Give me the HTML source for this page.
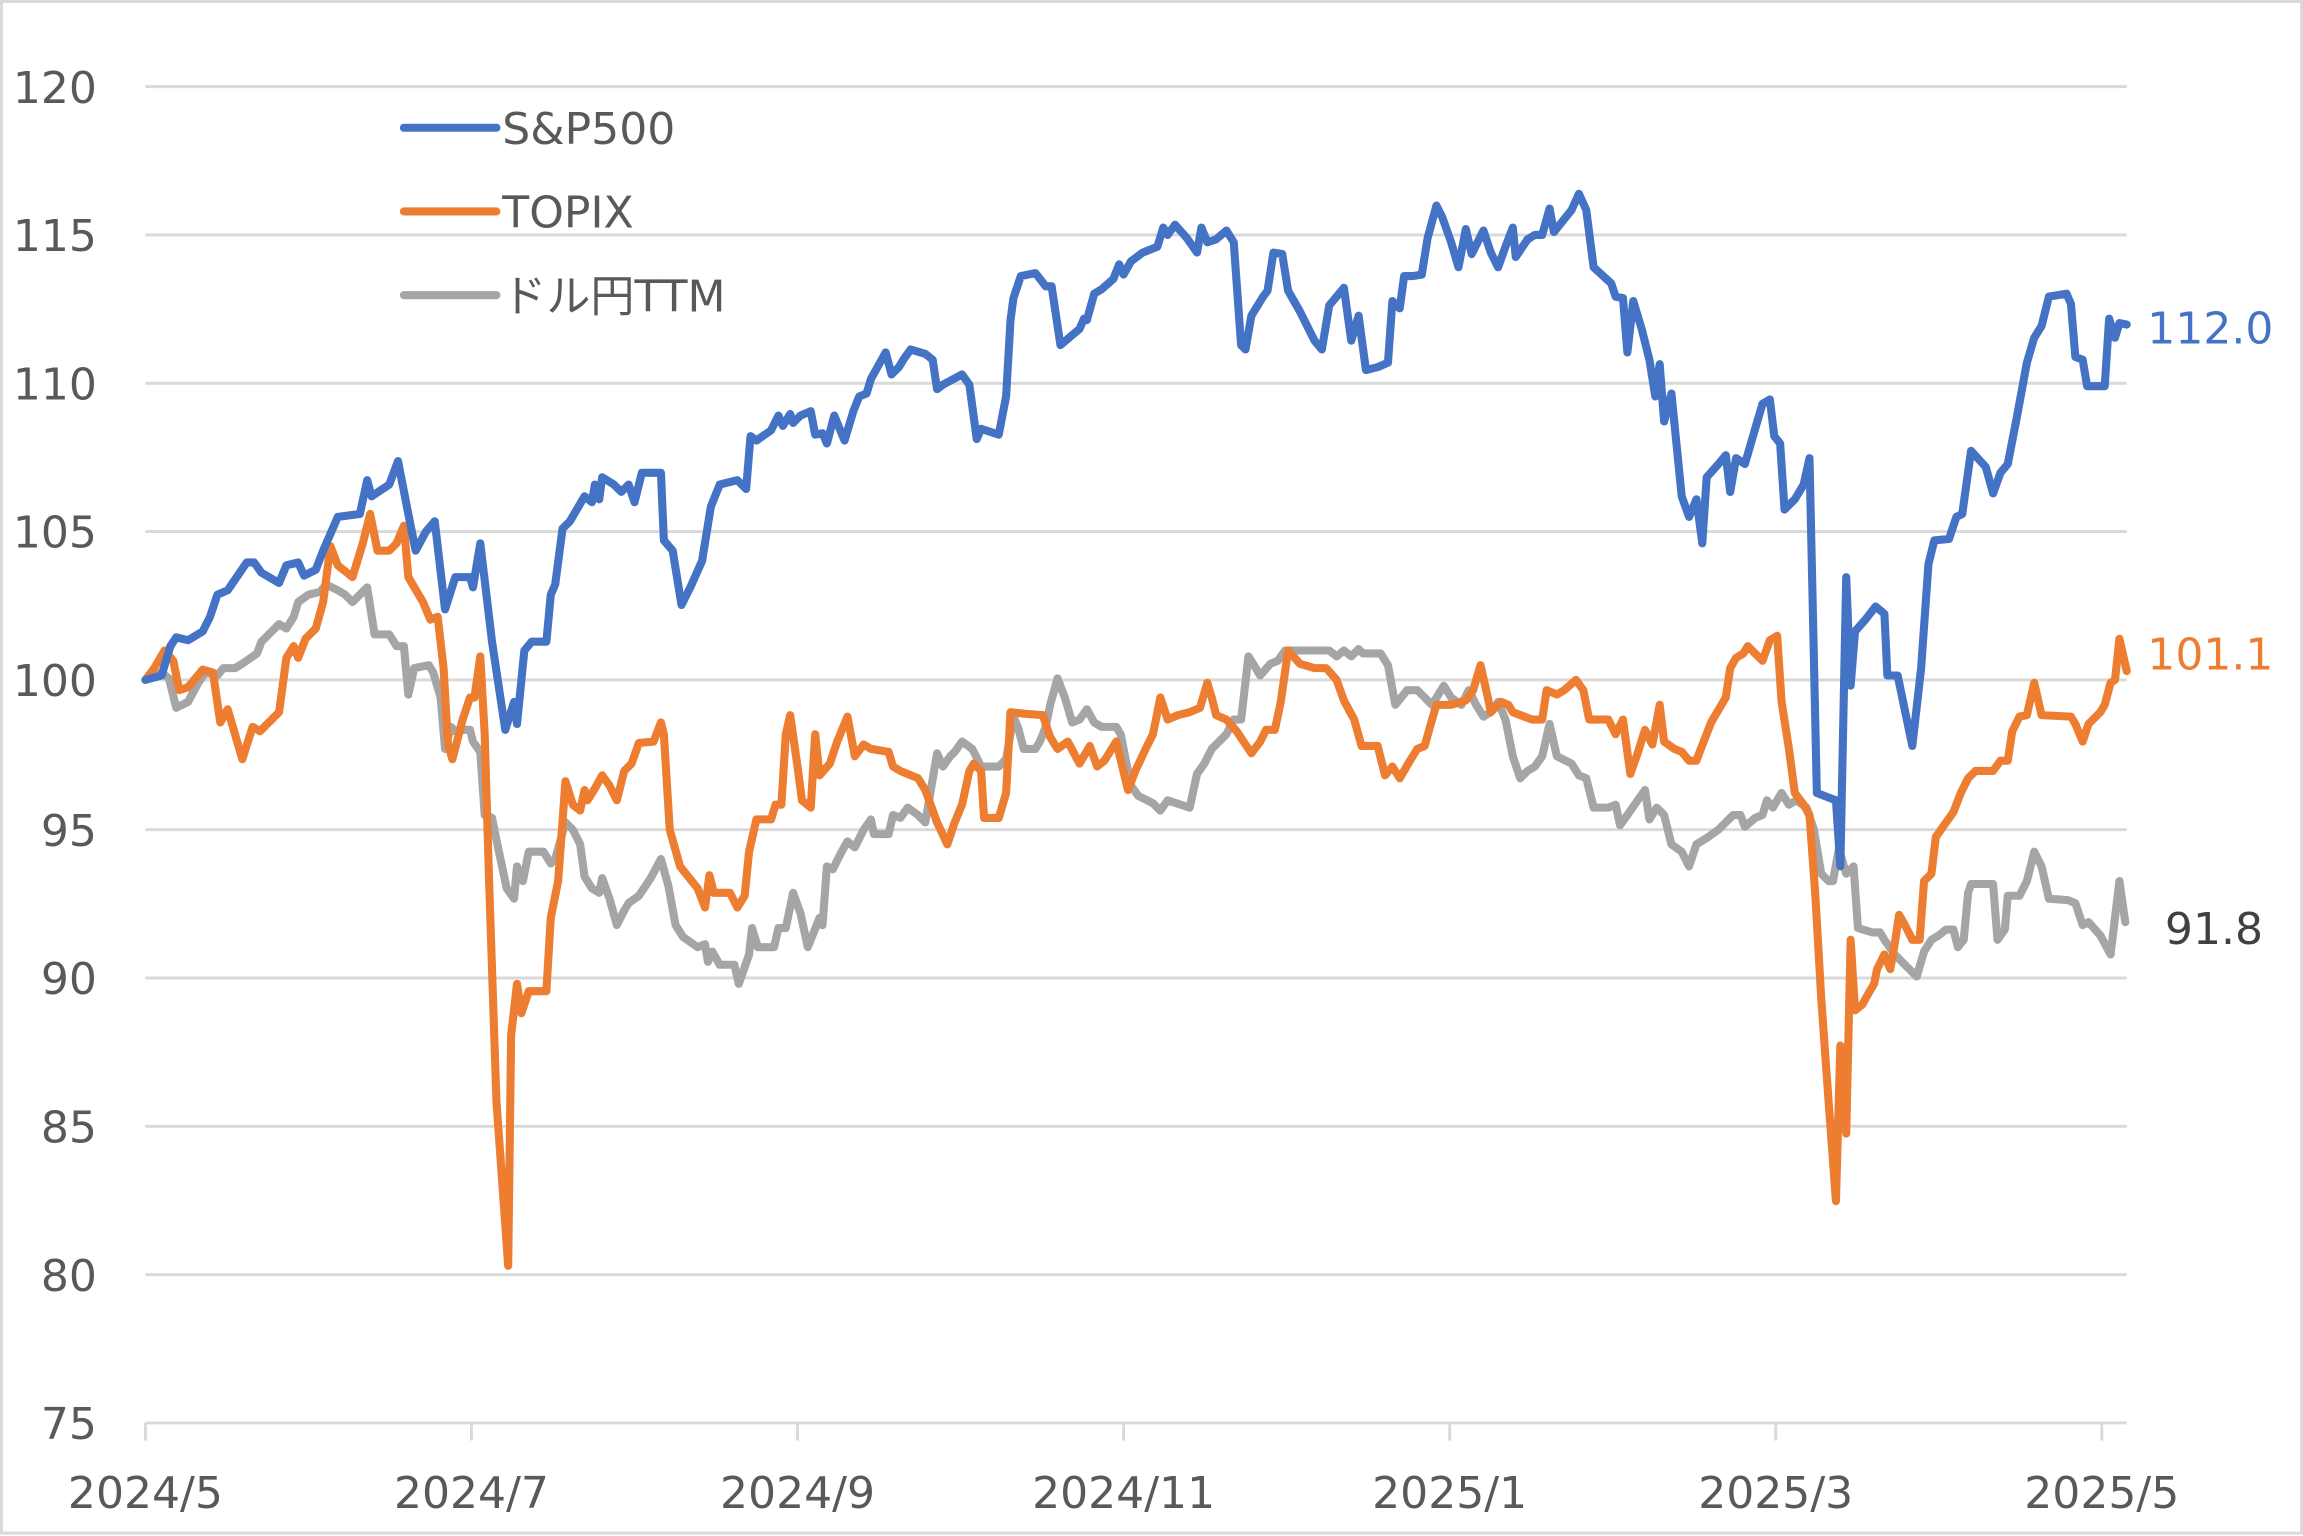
<!DOCTYPE html>
<html><head><meta charset="utf-8"><style>
html,body{margin:0;padding:0;background:#fff;}
svg{display:block;}
text{font-family:"DejaVu Sans","Noto Sans CJK JP",sans-serif;fill:#595959;}
</style></head><body>
<svg width="2303" height="1536" viewBox="0 0 1568 1046" preserveAspectRatio="none" xmlns="http://www.w3.org/2000/svg">
<rect x="1" y="1" width="1566" height="1043" fill="#fff" stroke="#d9d9d9" stroke-width="2"/>
<g stroke="#d9d9d9" stroke-width="2">
<line x1="99" x2="1448" y1="59" y2="59"/><line x1="99" x2="1448" y1="160" y2="160"/>
<line x1="99" x2="1448" y1="261" y2="261"/><line x1="99" x2="1448" y1="362" y2="362"/>
<line x1="99" x2="1448" y1="463" y2="463"/><line x1="99" x2="1448" y1="565" y2="565"/>
<line x1="99" x2="1448" y1="666" y2="666"/><line x1="99" x2="1448" y1="767" y2="767"/>
<line x1="99" x2="1448" y1="868" y2="868"/><line x1="99" x2="1448" y1="969" y2="969"/>
<line x1="99" x2="99" y1="969" y2="981"/><line x1="321" x2="321" y1="969" y2="981"/>
<line x1="543" x2="543" y1="969" y2="981"/><line x1="765" x2="765" y1="969" y2="981"/>
<line x1="987" x2="987" y1="969" y2="981"/><line x1="1209" x2="1209" y1="969" y2="981"/>
<line x1="1431" x2="1431" y1="969" y2="981"/>
</g>
<g font-size="30" text-anchor="end">
<text x="66" y="70">120</text><text x="66" y="171">115</text><text x="66" y="272">110</text>
<text x="66" y="373">105</text><text x="66" y="474">100</text><text x="66" y="576">95</text>
<text x="66" y="677">90</text><text x="66" y="778">85</text><text x="66" y="879">80</text>
<text x="66" y="980">75</text>
</g>
<g font-size="30" text-anchor="middle">
<text x="99" y="1027">2024/5</text><text x="321" y="1027">2024/7</text><text x="543" y="1027">2024/9</text>
<text x="765" y="1027">2024/11</text><text x="987" y="1027">2025/1</text><text x="1209" y="1027">2025/3</text>
<text x="1431" y="1027">2025/5</text>
</g>
<g fill="none" stroke-width="5.5" stroke-linejoin="round" stroke-linecap="round">
<polyline stroke="#A5A5A5" points="99,463 110,458 115,462 120,482 128,478 135,465 140,458 148,460 152,455 160,455 165,452 175,445 178,437 185,430 190,425 195,428 200,420 203,410 210,405 218,403 222,398 230,402 235,405 240,410 250,400 255,432 265,432 270,440 275,440 278,473 282,455 292,453 295,458 300,475 303,510 307,495 310,498 315,497 320,497 322,505 327,512 330,555 335,557 338,572 345,605 350,612 352,590 356,600 360,580 370,580 375,588 378,585 385,560 390,565 395,575 398,597 403,605 408,608 410,598 415,612 420,630 425,620 428,615 435,610 443,598 450,585 455,603 460,630 465,638 475,645 480,643 482,655 485,648 490,657 500,657 503,670 510,650 512,632 516,645 527,645 530,632 535,632 540,608 545,622 550,645 558,625 560,630 563,590 567,592 573,580 577,573 582,577 588,565 593,558 595,568 605,568 608,555 613,557 618,550 625,555 630,560 638,513 642,522 647,515 650,512 655,505 662,510 668,522 680,522 685,517 690,488 693,495 697,510 705,510 708,505 712,495 715,480 720,462 725,475 730,492 735,490 740,483 745,492 750,495 760,495 763,500 770,535 775,542 785,547 790,552 795,545 810,550 815,527 820,520 825,510 835,500 840,490 845,490 850,447 855,455 858,460 865,452 870,450 875,443 880,443 905,443 910,447 915,443 920,447 925,442 928,445 940,445 945,453 950,480 958,470 965,470 975,480 983,467 988,475 995,480 1000,470 1005,480 1010,488 1015,485 1020,478 1025,490 1030,515 1035,530 1040,525 1045,522 1050,515 1055,493 1060,515 1070,520 1075,528 1080,530 1085,550 1095,550 1100,548 1103,562 1108,555 1115,545 1120,538 1123,558 1128,550 1133,555 1138,575 1145,580 1150,590 1155,575 1163,570 1170,565 1175,560 1180,555 1185,555 1188,563 1195,557 1200,555 1203,545 1207,550 1213,540 1218,548 1223,545 1230,550 1235,565 1240,595 1245,600 1248,600 1252,578 1257,595 1262,590 1265,632 1275,635 1280,635 1283,640 1290,650 1295,655 1300,660 1305,665 1310,648 1315,640 1320,637 1325,633 1330,633 1333,645 1337,640 1340,608 1342,602 1357,602 1360,640 1365,633 1367,610 1375,610 1380,600 1385,580 1390,590 1395,612 1408,613 1413,615 1418,630 1422,628 1430,637 1437,650 1440,625 1443,600 1447,628"/>
<polyline stroke="#ED7D31" points="99,463 105,455 112,443 118,450 122,470 128,468 138,456 145,458 150,492 155,483 165,517 172,495 177,498 185,490 190,485 195,448 200,440 203,448 208,435 215,428 220,410 225,372 230,385 240,393 247,370 252,350 257,375 265,375 270,370 275,358 278,393 288,410 293,422 298,420 302,455 305,507 308,517 315,490 320,475 323,475 327,447 330,500 333,600 338,750 346,862 348,705 352,670 355,690 360,675 372,675 375,625 380,600 385,532 390,548 395,552 398,538 400,545 405,537 410,528 415,535 420,545 425,525 430,520 435,506 445,505 450,492 452,500 456,565 463,590 475,605 480,618 483,596 486,608 497,608 502,618 507,610 510,580 515,558 525,558 528,548 532,548 535,500 538,487 543,522 546,545 552,550 555,500 558,528 565,520 570,505 577,488 582,515 588,507 593,510 605,512 608,522 613,525 625,530 630,538 638,560 645,575 650,560 655,548 660,525 663,520 668,525 670,557 680,557 685,540 688,485 697,486 710,487 715,502 720,510 727,505 735,520 742,508 747,522 752,518 760,505 768,538 773,525 780,510 785,500 790,475 795,490 802,487 810,485 817,482 822,465 825,475 828,487 835,490 842,498 852,513 858,505 862,497 868,497 872,478 877,443 885,452 895,455 903,455 910,463 915,477 922,490 927,508 938,508 943,528 948,522 953,530 960,518 965,510 970,508 975,490 978,480 988,480 998,477 1003,470 1008,453 1013,475 1015,485 1022,478 1027,480 1030,485 1043,490 1050,490 1053,470 1060,473 1065,470 1073,463 1078,470 1082,490 1095,490 1100,500 1105,490 1110,527 1115,513 1120,497 1125,507 1130,480 1133,505 1140,510 1145,512 1150,518 1155,518 1158,510 1165,492 1175,475 1178,455 1182,448 1187,445 1190,440 1195,445 1200,450 1205,436 1210,433 1213,478 1218,510 1222,540 1228,548 1232,555 1236,610 1240,680 1245,750 1250,818 1253,712 1257,772 1260,640 1263,688 1268,684 1273,675 1276,670 1278,660 1283,650 1287,660 1290,643 1293,623 1297,630 1302,640 1307,640 1310,600 1315,595 1318,570 1325,560 1330,553 1335,540 1340,530 1345,525 1357,525 1362,518 1367,518 1370,498 1375,488 1380,487 1385,465 1390,487 1410,488 1413,493 1418,505 1422,493 1430,485 1433,480 1437,465 1440,463 1443,435 1448,457"/>
<polyline stroke="#4472C4" points="99,463 110,460 116,440 120,434 128,436 138,430 143,420 148,405 155,402 168,383 173,383 178,390 190,397 195,385 203,383 207,392 215,388 220,375 230,352 245,350 250,327 253,338 265,330 271,314 278,350 283,375 290,362 296,355 303,415 310,393 320,393 322,400 327,370 335,437 344,497 350,478 352,493 357,443 362,437 372,437 375,405 378,398 383,360 388,355 398,338 403,342 405,330 408,340 410,325 418,330 423,335 428,330 432,342 437,322 450,322 452,368 458,375 464,412 470,400 478,382 484,345 490,330 502,327 508,333 511,297 515,300 525,293 530,283 533,290 538,282 540,288 545,283 552,280 555,296 560,295 563,302 568,283 575,300 581,280 585,270 590,268 593,258 603,240 607,255 612,250 615,245 620,238 630,241 635,245 638,265 642,262 655,255 660,262 665,299 668,292 680,296 685,270 688,218 690,203 695,188 705,186 712,195 716,195 722,235 735,224 738,217 740,218 745,200 750,197 758,190 762,180 765,187 770,178 778,172 788,168 792,155 795,160 800,153 808,162 815,172 818,155 822,165 828,163 835,157 840,165 845,235 848,238 852,215 860,202 863,198 867,172 873,173 877,198 885,212 895,232 900,238 905,208 915,196 920,232 925,215 930,252 938,250 945,247 948,205 953,210 956,188 962,188 968,187 972,162 978,140 982,148 988,165 993,182 998,156 1002,173 1006,165 1010,157 1015,172 1020,182 1025,168 1030,155 1032,175 1040,163 1045,160 1050,160 1055,142 1058,158 1070,143 1075,132 1080,143 1085,182 1097,193 1100,202 1105,203 1108,240 1112,205 1118,225 1123,245 1127,270 1130,248 1133,287 1138,268 1145,338 1150,352 1155,340 1159,370 1162,325 1170,316 1175,310 1178,335 1182,312 1188,316 1195,292 1200,275 1205,272 1208,297 1212,302 1215,347 1222,340 1228,330 1232,312 1237,540 1250,545 1253,590 1257,393 1260,467 1263,430 1270,422 1277,413 1283,418 1285,460 1292,460 1302,508 1308,455 1313,384 1317,368 1327,367 1332,352 1336,350 1342,307 1352,318 1357,336 1362,322 1367,316 1373,285 1380,247 1385,230 1390,222 1395,202 1407,200 1410,207 1413,243 1418,245 1421,263 1433,263 1436,217 1440,230 1443,220 1448,221"/>
</g>
<g stroke-width="5.5" stroke-linecap="round">
<line x1="275" x2="338" y1="87" y2="87" stroke="#4472C4"/>
<line x1="275" x2="338" y1="144" y2="144" stroke="#ED7D31"/>
<line x1="275" x2="338" y1="201" y2="201" stroke="#A5A5A5"/>
</g>
<g font-size="30">
<text x="342" y="98">S&amp;P500</text>
<text x="342" y="155">TOPIX</text>
<text x="342" y="212">ドル円TTM</text>
<text x="1462" y="234" style="fill:#4472C4">112.0</text>
<text x="1462" y="456" style="fill:#ED7D31">101.1</text>
<text x="1474" y="643" style="fill:#404040">91.8</text>
</g>
</svg>
</body></html>
